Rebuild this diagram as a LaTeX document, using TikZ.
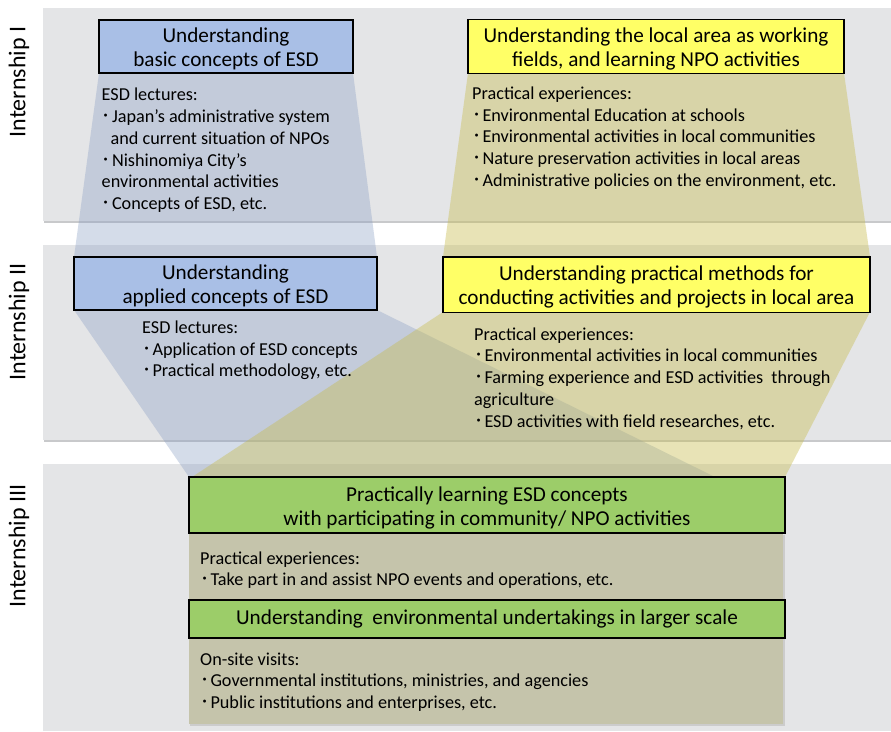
\documentclass[tikz,border=0pt]{standalone}
\usepackage{fontspec}
\setmainfont{Carlito}
\newfontfamily\cjk{Noto Sans CJK JP}
\newcommand\bul{\makebox[9.5pt][c]{\cjk ･}\hspace{0.8pt}}
\newcommand\fst{\rule{0pt}{13.5pt}}
\definecolor{bandgray}{HTML}{E4E5E7}
\definecolor{bandshadow}{HTML}{C8C9CB}
\definecolor{boxblue}{HTML}{A9BFE6}
\definecolor{boxyellow}{HTML}{FFFF66}
\definecolor{boxgreen}{HTML}{9CCD69}
\definecolor{funblue}{HTML}{869BC2}
\definecolor{funyellow}{HTML}{C6BB4A}
\definecolor{lowfill}{HTML}{C5C4AB}
\begin{document}
\begin{tikzpicture}[x=1pt,y=-1pt,
  boxshape/.style={draw=black, line width=1.1pt, inner sep=0pt},
  titletext/.style={align=center, inner sep=0pt,
    font=\fontsize{21.2}{24}\selectfont},
  bodytext/.style={align=left, anchor=north west, inner sep=0pt,
    font=\fontsize{18.2}{21.7}\selectfont},
  rowlabel/.style={rotate=90, font=\fontsize{24}{28}\selectfont, inner sep=0pt},
  bluefun/.style={fill=funblue, fill opacity=0.35},
  yelfun/.style={fill=funyellow, fill opacity=0.4}]
\useasboundingbox (0,0) rectangle (891,731);
\fill[white] (0,0) rectangle (891,731);
% bands
\fill[bandshadow] (44,10) rectangle (891,222.5);
\fill[bandgray] (43,8) rectangle (891,220.5);
\fill[bandshadow] (44,247) rectangle (891,441.5);
\fill[bandgray] (43,245) rectangle (891,439.5);
\fill[bandgray] (43,464) rectangle (891,731);
% funnels
\fill[bluefun] (99,73) -- (353,73) -- (377,257) -- (74,257) -- cycle;
\fill[bluefun] (74,310) -- (377,310) -- (715,477) -- (189,477) -- cycle;
\fill[yelfun] (468,73) -- (844,73) -- (870,257) -- (443,257) -- cycle;
\fill[yelfun] (443,312) -- (870,312) -- (785,477) -- (192,477) -- cycle;
% lower area
\fill[black!20] (190,535) rectangle (785,726);
\fill[lowfill] (189,533) rectangle (783,724);
% row labels
\node[rowlabel] (l1) at (19,82) {Internship I};
\node[rowlabel] (l2) at (19,322) {Internship II};
\node[rowlabel] (l3) at (19,546) {Internship III};
% title boxes
\node[boxshape, fill=boxblue, minimum width=254pt, minimum height=53pt] (b1) at (226,46.5) {};
\node[titletext] (b1t) at ([yshift=-2.5pt]b1.center) {Understanding\\basic concepts of ESD};
\node[boxshape, fill=boxyellow, minimum width=376pt, minimum height=54pt] (y1) at (656,46.4) {};
\node[titletext] (y1t) at ([yshift=-2.5pt]y1.center)
  {Understanding the local area as working\\fields, and learning NPO activities};
\node[boxshape, fill=boxblue, minimum width=303pt, minimum height=53pt] (b2) at (225.5,283.5) {};
\node[titletext] (b2t) at ([yshift=-2.5pt]b2.center) {Understanding\\applied concepts of ESD};
\node[boxshape, fill=boxyellow, minimum width=427pt, minimum height=55.5pt] (y2) at (656.5,284.7) {};
\node[titletext] (y2t) at ([yshift=-2pt]y2.center)
  {Understanding practical methods for\\conducting activities and projects in local area};
\node[boxshape, fill=boxgreen, minimum width=596pt, minimum height=56pt] (g1) at (487,505) {};
\node[titletext] (g1t) at ([yshift=-2.5pt]g1.center)
  {Practically learning ESD concepts\\with participating in community/ NPO activities};
\node[boxshape, fill=boxgreen, minimum width=596pt, minimum height=38pt] (g2) at (487,619) {};
\node[titletext] (g2t) at ([yshift=0pt]g2.center)
  {Understanding\ \ environmental undertakings in larger scale};
% body texts
\node[bodytext] (t1) at (101.5,87.2) {\fst ESD lectures:\\
  \bul Japan’s administrative system\\
  \hspace{9pt}and current situation of NPOs\\
  \bul Nishinomiya City’s\\
  environmental activities\\
  \bul Concepts of ESD, etc.};
\node[bodytext] (t2) at (472,85.8) {\fst Practical experiences:\\
  \bul Environmental Education at schools\\
  \bul Environmental activities in local communities\\
  \bul Nature preservation activities in local areas\\
  \bul Administrative policies on the environment, etc.};
\node[bodytext] (t3) at (142,319.8) {\fst ESD lectures:\\
  \bul Application of ESD concepts\\
  \bul Practical methodology, etc.};
\node[bodytext] (t4) at (474,326.5) {\fst Practical experiences:\\
  \bul Environmental activities in local communities\\
  \bul Farming experience and ESD activities\ \ through\\
  agriculture\\
  \bul ESD activities with field researches, etc.};
\node[bodytext] (t5) at (200,550.5) {\fst Practical experiences:\\
  \bul Take part in and assist NPO events and operations, etc.};
\node[bodytext] (t6) at (200,651.5) {\fst On-site visits:\\
  \bul Governmental institutions, ministries, and agencies\\
  \bul Public institutions and enterprises, etc.};
\end{tikzpicture}
\end{document}
